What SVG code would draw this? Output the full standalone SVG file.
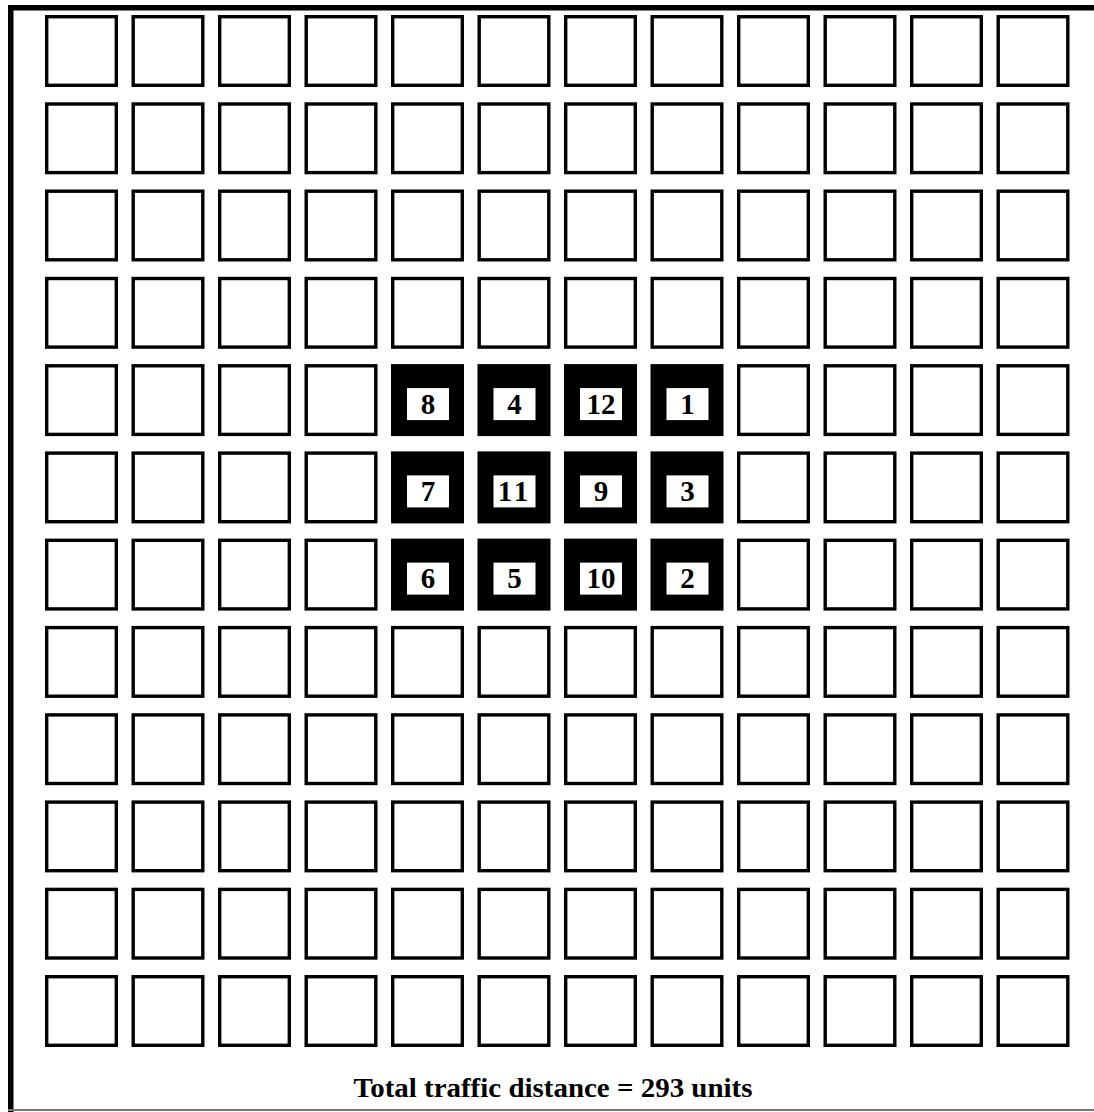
<svg xmlns="http://www.w3.org/2000/svg" width="1094" height="1112" viewBox="0 0 1094 1112">
<style>
.c{fill:#fff;stroke:#000;stroke-width:3.4}
.d{fill:#000}
.w{fill:#fff}
.n{font-family:"Liberation Serif","Times New Roman",serif;font-weight:bold;font-size:29px;text-anchor:middle;fill:#000}
.t{font-family:"Liberation Serif","Times New Roman",serif;font-weight:bold;font-size:28px;text-anchor:middle;fill:#000}
</style>
<rect width="1094" height="1112" fill="#fff"/>
<g id="frame">
<rect x="8" y="5" width="1086" height="5.5" fill="#000"/>
<rect x="8" y="5" width="5.5" height="1107" fill="#000"/>
<line x1="8" y1="1110" x2="1094" y2="1110" stroke="#777" stroke-width="2"/>
</g>
<g id="empty-cells">
<!-- row 1 -->
<rect class="c" x="46.7" y="16.7" width="69.6" height="68.6"/><rect class="c" x="133.2" y="16.7" width="69.6" height="68.6"/><rect class="c" x="219.7" y="16.7" width="69.6" height="68.6"/><rect class="c" x="306.2" y="16.7" width="69.6" height="68.6"/><rect class="c" x="392.7" y="16.7" width="69.6" height="68.6"/><rect class="c" x="479.2" y="16.7" width="69.6" height="68.6"/><rect class="c" x="565.7" y="16.7" width="69.6" height="68.6"/><rect class="c" x="652.2" y="16.7" width="69.6" height="68.6"/><rect class="c" x="738.7" y="16.7" width="69.6" height="68.6"/><rect class="c" x="825.2" y="16.7" width="69.6" height="68.6"/><rect class="c" x="911.7" y="16.7" width="69.6" height="68.6"/><rect class="c" x="998.2" y="16.7" width="69.6" height="68.6"/>
<!-- row 2 -->
<rect class="c" x="46.7" y="104" width="69.6" height="68.6"/><rect class="c" x="133.2" y="104" width="69.6" height="68.6"/><rect class="c" x="219.7" y="104" width="69.6" height="68.6"/><rect class="c" x="306.2" y="104" width="69.6" height="68.6"/><rect class="c" x="392.7" y="104" width="69.6" height="68.6"/><rect class="c" x="479.2" y="104" width="69.6" height="68.6"/><rect class="c" x="565.7" y="104" width="69.6" height="68.6"/><rect class="c" x="652.2" y="104" width="69.6" height="68.6"/><rect class="c" x="738.7" y="104" width="69.6" height="68.6"/><rect class="c" x="825.2" y="104" width="69.6" height="68.6"/><rect class="c" x="911.7" y="104" width="69.6" height="68.6"/><rect class="c" x="998.2" y="104" width="69.6" height="68.6"/>
<!-- row 3 -->
<rect class="c" x="46.7" y="191.2" width="69.6" height="68.6"/><rect class="c" x="133.2" y="191.2" width="69.6" height="68.6"/><rect class="c" x="219.7" y="191.2" width="69.6" height="68.6"/><rect class="c" x="306.2" y="191.2" width="69.6" height="68.6"/><rect class="c" x="392.7" y="191.2" width="69.6" height="68.6"/><rect class="c" x="479.2" y="191.2" width="69.6" height="68.6"/><rect class="c" x="565.7" y="191.2" width="69.6" height="68.6"/><rect class="c" x="652.2" y="191.2" width="69.6" height="68.6"/><rect class="c" x="738.7" y="191.2" width="69.6" height="68.6"/><rect class="c" x="825.2" y="191.2" width="69.6" height="68.6"/><rect class="c" x="911.7" y="191.2" width="69.6" height="68.6"/><rect class="c" x="998.2" y="191.2" width="69.6" height="68.6"/>
<!-- row 4 -->
<rect class="c" x="46.7" y="278.5" width="69.6" height="68.6"/><rect class="c" x="133.2" y="278.5" width="69.6" height="68.6"/><rect class="c" x="219.7" y="278.5" width="69.6" height="68.6"/><rect class="c" x="306.2" y="278.5" width="69.6" height="68.6"/><rect class="c" x="392.7" y="278.5" width="69.6" height="68.6"/><rect class="c" x="479.2" y="278.5" width="69.6" height="68.6"/><rect class="c" x="565.7" y="278.5" width="69.6" height="68.6"/><rect class="c" x="652.2" y="278.5" width="69.6" height="68.6"/><rect class="c" x="738.7" y="278.5" width="69.6" height="68.6"/><rect class="c" x="825.2" y="278.5" width="69.6" height="68.6"/><rect class="c" x="911.7" y="278.5" width="69.6" height="68.6"/><rect class="c" x="998.2" y="278.5" width="69.6" height="68.6"/>
<!-- row 5 -->
<rect class="c" x="46.7" y="365.8" width="69.6" height="68.6"/><rect class="c" x="133.2" y="365.8" width="69.6" height="68.6"/><rect class="c" x="219.7" y="365.8" width="69.6" height="68.6"/><rect class="c" x="306.2" y="365.8" width="69.6" height="68.6"/><rect class="c" x="738.7" y="365.8" width="69.6" height="68.6"/><rect class="c" x="825.2" y="365.8" width="69.6" height="68.6"/><rect class="c" x="911.7" y="365.8" width="69.6" height="68.6"/><rect class="c" x="998.2" y="365.8" width="69.6" height="68.6"/>
<!-- row 6 -->
<rect class="c" x="46.7" y="453.1" width="69.6" height="68.6"/><rect class="c" x="133.2" y="453.1" width="69.6" height="68.6"/><rect class="c" x="219.7" y="453.1" width="69.6" height="68.6"/><rect class="c" x="306.2" y="453.1" width="69.6" height="68.6"/><rect class="c" x="738.7" y="453.1" width="69.6" height="68.6"/><rect class="c" x="825.2" y="453.1" width="69.6" height="68.6"/><rect class="c" x="911.7" y="453.1" width="69.6" height="68.6"/><rect class="c" x="998.2" y="453.1" width="69.6" height="68.6"/>
<!-- row 7 -->
<rect class="c" x="46.7" y="540.3" width="69.6" height="68.6"/><rect class="c" x="133.2" y="540.3" width="69.6" height="68.6"/><rect class="c" x="219.7" y="540.3" width="69.6" height="68.6"/><rect class="c" x="306.2" y="540.3" width="69.6" height="68.6"/><rect class="c" x="738.7" y="540.3" width="69.6" height="68.6"/><rect class="c" x="825.2" y="540.3" width="69.6" height="68.6"/><rect class="c" x="911.7" y="540.3" width="69.6" height="68.6"/><rect class="c" x="998.2" y="540.3" width="69.6" height="68.6"/>
<!-- row 8 -->
<rect class="c" x="46.7" y="627.6" width="69.6" height="68.6"/><rect class="c" x="133.2" y="627.6" width="69.6" height="68.6"/><rect class="c" x="219.7" y="627.6" width="69.6" height="68.6"/><rect class="c" x="306.2" y="627.6" width="69.6" height="68.6"/><rect class="c" x="392.7" y="627.6" width="69.6" height="68.6"/><rect class="c" x="479.2" y="627.6" width="69.6" height="68.6"/><rect class="c" x="565.7" y="627.6" width="69.6" height="68.6"/><rect class="c" x="652.2" y="627.6" width="69.6" height="68.6"/><rect class="c" x="738.7" y="627.6" width="69.6" height="68.6"/><rect class="c" x="825.2" y="627.6" width="69.6" height="68.6"/><rect class="c" x="911.7" y="627.6" width="69.6" height="68.6"/><rect class="c" x="998.2" y="627.6" width="69.6" height="68.6"/>
<!-- row 9 -->
<rect class="c" x="46.7" y="714.9" width="69.6" height="68.6"/><rect class="c" x="133.2" y="714.9" width="69.6" height="68.6"/><rect class="c" x="219.7" y="714.9" width="69.6" height="68.6"/><rect class="c" x="306.2" y="714.9" width="69.6" height="68.6"/><rect class="c" x="392.7" y="714.9" width="69.6" height="68.6"/><rect class="c" x="479.2" y="714.9" width="69.6" height="68.6"/><rect class="c" x="565.7" y="714.9" width="69.6" height="68.6"/><rect class="c" x="652.2" y="714.9" width="69.6" height="68.6"/><rect class="c" x="738.7" y="714.9" width="69.6" height="68.6"/><rect class="c" x="825.2" y="714.9" width="69.6" height="68.6"/><rect class="c" x="911.7" y="714.9" width="69.6" height="68.6"/><rect class="c" x="998.2" y="714.9" width="69.6" height="68.6"/>
<!-- row 10 -->
<rect class="c" x="46.7" y="802.1" width="69.6" height="68.6"/><rect class="c" x="133.2" y="802.1" width="69.6" height="68.6"/><rect class="c" x="219.7" y="802.1" width="69.6" height="68.6"/><rect class="c" x="306.2" y="802.1" width="69.6" height="68.6"/><rect class="c" x="392.7" y="802.1" width="69.6" height="68.6"/><rect class="c" x="479.2" y="802.1" width="69.6" height="68.6"/><rect class="c" x="565.7" y="802.1" width="69.6" height="68.6"/><rect class="c" x="652.2" y="802.1" width="69.6" height="68.6"/><rect class="c" x="738.7" y="802.1" width="69.6" height="68.6"/><rect class="c" x="825.2" y="802.1" width="69.6" height="68.6"/><rect class="c" x="911.7" y="802.1" width="69.6" height="68.6"/><rect class="c" x="998.2" y="802.1" width="69.6" height="68.6"/>
<!-- row 11 -->
<rect class="c" x="46.7" y="889.4" width="69.6" height="68.6"/><rect class="c" x="133.2" y="889.4" width="69.6" height="68.6"/><rect class="c" x="219.7" y="889.4" width="69.6" height="68.6"/><rect class="c" x="306.2" y="889.4" width="69.6" height="68.6"/><rect class="c" x="392.7" y="889.4" width="69.6" height="68.6"/><rect class="c" x="479.2" y="889.4" width="69.6" height="68.6"/><rect class="c" x="565.7" y="889.4" width="69.6" height="68.6"/><rect class="c" x="652.2" y="889.4" width="69.6" height="68.6"/><rect class="c" x="738.7" y="889.4" width="69.6" height="68.6"/><rect class="c" x="825.2" y="889.4" width="69.6" height="68.6"/><rect class="c" x="911.7" y="889.4" width="69.6" height="68.6"/><rect class="c" x="998.2" y="889.4" width="69.6" height="68.6"/>
<!-- row 12 -->
<rect class="c" x="46.7" y="976.7" width="69.6" height="68.6"/><rect class="c" x="133.2" y="976.7" width="69.6" height="68.6"/><rect class="c" x="219.7" y="976.7" width="69.6" height="68.6"/><rect class="c" x="306.2" y="976.7" width="69.6" height="68.6"/><rect class="c" x="392.7" y="976.7" width="69.6" height="68.6"/><rect class="c" x="479.2" y="976.7" width="69.6" height="68.6"/><rect class="c" x="565.7" y="976.7" width="69.6" height="68.6"/><rect class="c" x="652.2" y="976.7" width="69.6" height="68.6"/><rect class="c" x="738.7" y="976.7" width="69.6" height="68.6"/><rect class="c" x="825.2" y="976.7" width="69.6" height="68.6"/><rect class="c" x="911.7" y="976.7" width="69.6" height="68.6"/><rect class="c" x="998.2" y="976.7" width="69.6" height="68.6"/>
</g>
<g id="connectors"></g>
<g id="node-8"><rect class="d" x="391" y="364.1" width="73" height="72"/><rect class="w" x="407" y="388.1" width="42" height="32"/><text class="n" x="428" y="413.6">8</text></g>
<g id="node-4"><rect class="d" x="477.5" y="364.1" width="73" height="72"/><rect class="w" x="493.5" y="388.1" width="42" height="32"/><text class="n" x="514.5" y="413.6">4</text></g>
<g id="node-12"><rect class="d" x="564" y="364.1" width="73" height="72"/><rect class="w" x="580" y="388.1" width="42" height="32"/><text class="n" x="601" y="413.6">12</text></g>
<g id="node-1"><rect class="d" x="650.5" y="364.1" width="73" height="72"/><rect class="w" x="666.5" y="388.1" width="42" height="32"/><text class="n" x="687.5" y="413.6">1</text></g>
<g id="node-7"><rect class="d" x="391" y="451.4" width="73" height="72"/><rect class="w" x="407" y="475.4" width="42" height="32"/><text class="n" x="428" y="500.9">7</text></g>
<g id="node-11"><rect class="d" x="477.5" y="451.4" width="73" height="72"/><rect class="w" x="493.5" y="475.4" width="42" height="32"/><text class="n" x="514.5" y="500.9" letter-spacing="3">11</text></g>
<g id="node-9"><rect class="d" x="564" y="451.4" width="73" height="72"/><rect class="w" x="580" y="475.4" width="42" height="32"/><text class="n" x="601" y="500.9">9</text></g>
<g id="node-3"><rect class="d" x="650.5" y="451.4" width="73" height="72"/><rect class="w" x="666.5" y="475.4" width="42" height="32"/><text class="n" x="687.5" y="500.9">3</text></g>
<g id="node-6"><rect class="d" x="391" y="538.6" width="73" height="72"/><rect class="w" x="407" y="562.6" width="42" height="32"/><text class="n" x="428" y="588.1">6</text></g>
<g id="node-5"><rect class="d" x="477.5" y="538.6" width="73" height="72"/><rect class="w" x="493.5" y="562.6" width="42" height="32"/><text class="n" x="514.5" y="588.1">5</text></g>
<g id="node-10"><rect class="d" x="564" y="538.6" width="73" height="72"/><rect class="w" x="580" y="562.6" width="42" height="32"/><text class="n" x="601" y="588.1">10</text></g>
<g id="node-2"><rect class="d" x="650.5" y="538.6" width="73" height="72"/><rect class="w" x="666.5" y="562.6" width="42" height="32"/><text class="n" x="687.5" y="588.1">2</text></g>
<g id="caption"><text class="t" x="553" y="1097" textLength="399" lengthAdjust="spacingAndGlyphs">Total traffic distance = 293 units</text></g>
</svg>
